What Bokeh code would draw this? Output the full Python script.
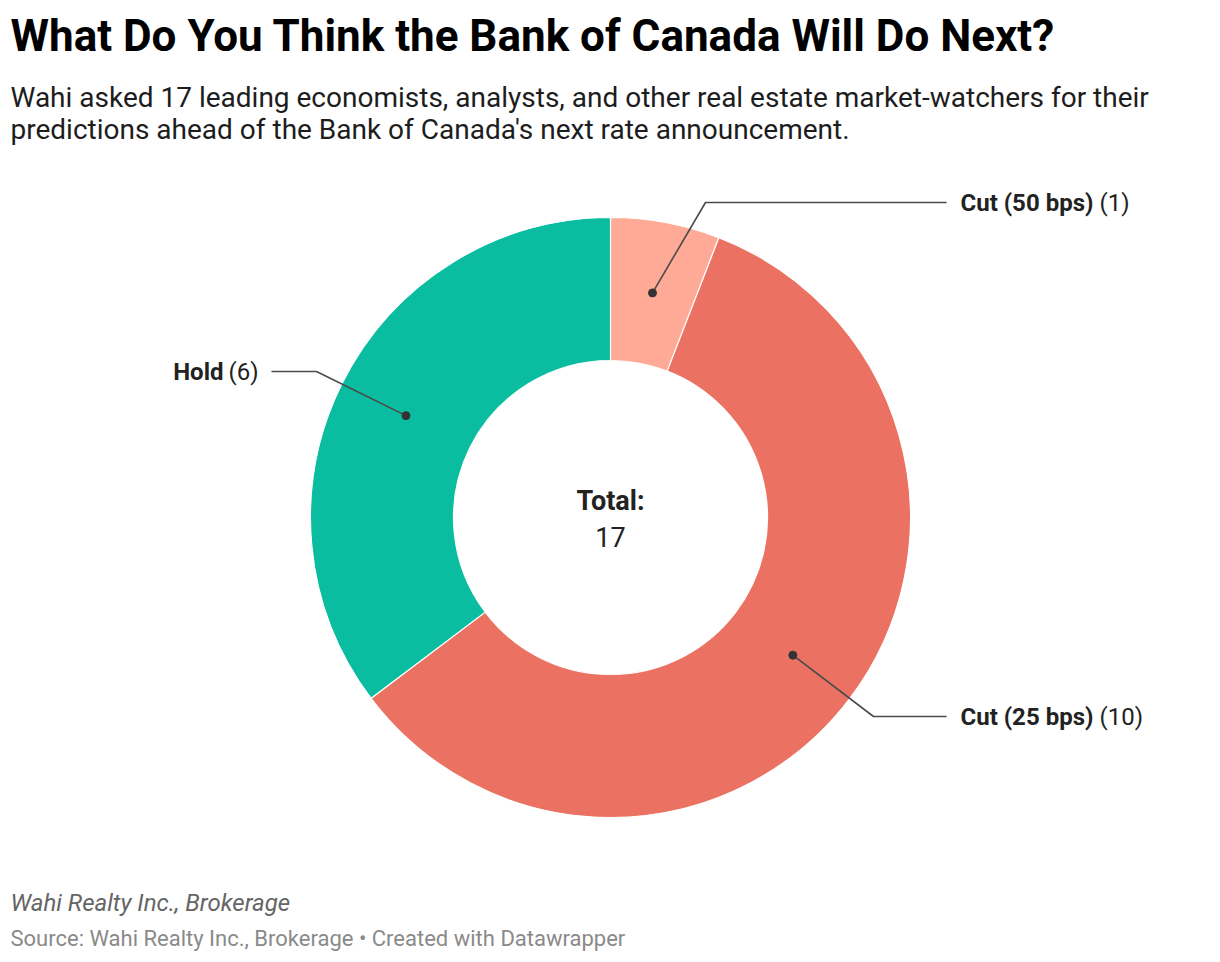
import math
from bokeh.plotting import figure
from bokeh.models import Range1d, ColumnDataSource
from bokeh.core.properties import value
from bokeh.embed import file_html
from bokeh.resources import INLINE

# ---------------- data ----------------
categories = ["Cut (50 bps)", "Cut (25 bps)", "Hold"]
counts = [1, 10, 6]
colors = ["#FEAA96", "#EB7262", "#0BBDA0"]
count_labels = ["(1)", "(10)", "(6)"]

title = "What Do You Think the Bank of Canada Will Do Next?"
subtitle_lines = [
    "Wahi asked 17 leading economists, analysts, and other real estate market-watchers for their",
    "predictions ahead of the Bank of Canada's next rate announcement.",
]
byline = "Wahi Realty Inc., Brokerage"
source = "Source: Wahi Realty Inc., Brokerage \u2022 Created with Datawrapper"

# ---------------- layout (page pixel coords, y measured from top) ----------------
W, H = 1204, 954
FONT = value("Roboto")


def Y(py):
    return 962 - py


p = figure(width=W, height=H, x_range=Range1d(0, W), y_range=Range1d(962 - H, 962),
           x_axis_type=None, y_axis_type=None, toolbar_location=None,
           output_backend="svg", min_border=0, outline_line_color=None)
p.grid.visible = False
p.background_fill_color = "white"
p.border_fill_color = "white"

cx, cy = 610, 517
r_out, r_in = 300, 157
total = sum(counts)

# wedges: start at 12 o'clock, clockwise
starts, ends, mids = [], [], []
acc = 0.0
for c in counts:
    t1 = acc / total * 2 * math.pi
    acc += c
    t2 = acc / total * 2 * math.pi
    starts.append(math.pi / 2 - t2)
    ends.append(math.pi / 2 - t1)
    mids.append((t1 + t2) / 2)

src = ColumnDataSource(dict(start=starts, end=ends, color=colors, cat=categories, n=counts))
p.annular_wedge(x=cx, y=Y(cy), inner_radius=r_in, outer_radius=r_out,
                start_angle="start", end_angle="end", direction="anticlock",
                fill_color="color", line_color="white", line_width=1.2, source=src)

# leader lines
r_mid = (r_in + r_out) / 2
dots = [(cx + r_mid * math.sin(m), cy - r_mid * math.cos(m)) for m in mids]
elbows = [(705, 202), (873, 716), (316, 371)]
ends_pts = [(946, 202), (946, 716), (271, 371)]
for (dx, dy), (ex, ey), (fx, fy) in zip(dots, elbows, ends_pts):
    p.line([dx, ex, fx], [Y(dy), Y(ey), Y(fy)], line_color="#4a4a4a", line_width=1.6)
p.scatter([d[0] for d in dots], [Y(d[1]) for d in dots], size=8, color="#333333")

# labels
lab_font = "24px"
right = [(0, 202), (1, 716)]
for i, ly in right:
    p.text(x=[960], y=[Y(ly)], text=[categories[i]], text_font=FONT, text_font_style="bold",
           text_font_size=lab_font, text_color="#222222", text_align="left", text_baseline="middle")
    p.text(x=[1099], y=[Y(ly)], text=[count_labels[i]], text_font=FONT,
           text_font_size=lab_font, text_color="#222222", text_align="left", text_baseline="middle")
# Hold (left side)
p.text(x=[258], y=[Y(371)], text=[count_labels[2]], text_font=FONT,
       text_font_size=lab_font, text_color="#222222", text_align="right", text_baseline="middle")
p.text(x=[223], y=[Y(371)], text=[categories[2]], text_font=FONT, text_font_style="bold",
       text_font_size=lab_font, text_color="#222222", text_align="right", text_baseline="middle")

# center total
p.text(x=[cx], y=[Y(500)], text=["Total:"], text_font=FONT, text_font_style="bold",
       text_font_size="27px", text_color="#222222", text_align="center", text_baseline="middle")
p.text(x=[cx], y=[Y(536)], text=[str(total)], text_font=FONT,
       text_font_size="27px", text_color="#222222", text_align="center", text_baseline="middle")

# title & subtitle
p.text(x=[10], y=[Y(35)], text=[title], text_font=FONT, text_font_style="bold",
       text_font_size="44px", text_color="#000000", text_align="left", text_baseline="middle")
for k, line in enumerate(subtitle_lines):
    p.text(x=[10], y=[Y(97 + 32 * k)], text=[line], text_font=FONT,
           text_font_size="28px", text_color="#1d1d1d", text_align="left", text_baseline="middle")

# footer
p.text(x=[10], y=[Y(902)], text=[byline], text_font=FONT, text_font_style="italic",
       text_font_size="24px", text_color="#656565", text_align="left", text_baseline="middle")
p.text(x=[10], y=[Y(938)], text=[source], text_font=FONT,
       text_font_size="22px", text_color="#8a8a8a", text_align="left", text_baseline="middle")

open("out.html", "w").write(file_html(p, INLINE))
